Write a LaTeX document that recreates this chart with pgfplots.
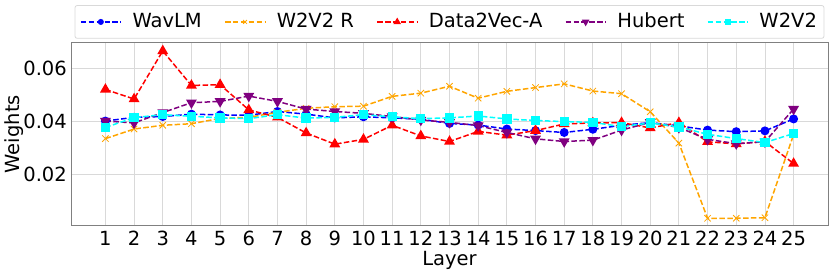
\documentclass[border=0pt]{standalone}
\usepackage{fontspec}
\setmainfont{DejaVu Sans}
\usepackage{pgfplots}
\pgfplotsset{compat=1.18}
\definecolor{cOrange}{RGB}{255,165,0}
\definecolor{cPurple}{RGB}{128,0,128}
\definecolor{cCyan}{RGB}{0,255,255}
\pgfplotstableread{
x wavlm w2v2r d2v hubert w2v2
1 0.0401 0.0335 0.0520 0.0401 0.0377
2 0.0415 0.0371 0.0484 0.0394 0.0414
3 0.0418 0.0385 0.0665 0.0433 0.0425
4 0.0427 0.0391 0.0535 0.0470 0.0419
5 0.0424 0.0411 0.0538 0.0475 0.0413
6 0.0423 0.0415 0.0443 0.0495 0.0410
7 0.0437 0.0434 0.0415 0.0475 0.0425
8 0.0427 0.0449 0.0356 0.0446 0.0412
9 0.0413 0.0455 0.0314 0.0437 0.0415
10 0.0417 0.0457 0.0332 0.0430 0.0425
11 0.0413 0.0494 0.0385 0.0418 0.0417
12 0.0408 0.0506 0.0345 0.0405 0.0410
13 0.0392 0.0532 0.0324 0.0396 0.0413
14 0.0386 0.0487 0.0362 0.0384 0.0420
15 0.0371 0.0513 0.0348 0.0358 0.0409
16 0.0365 0.0527 0.0365 0.0334 0.0403
17 0.0358 0.0541 0.0390 0.0324 0.0399
18 0.0370 0.0514 0.0394 0.0329 0.0396
19 0.0385 0.0504 0.0395 0.0367 0.0380
20 0.0395 0.0436 0.0375 0.0396 0.0394
21 0.0383 0.0318 0.0395 0.0377 0.0379
22 0.0367 0.0035 0.0323 0.0332 0.0351
23 0.0361 0.0035 0.0315 0.0316 0.0335
24 0.0364 0.0037 0.0324 0.0323 0.0320
25 0.0409 0.0350 0.0241 0.0446 0.0354
}\datatable
\begin{document}
\fontsize{19.5}{23}\selectfont
\begin{tikzpicture}
\begin{axis}[
  width=757pt, height=183pt, scale only axis,
  xmin=-0.2, xmax=26.2, ymin=0.0007, ymax=0.0696,
  xtick={1,...,25}, ytick={0.02,0.04,0.06},
  scaled y ticks=false,
  /pgf/number format/assume math mode=true,
  yticklabel style={/pgf/number format/fixed, /pgf/number format/fixed zerofill, /pgf/number format/precision=2, inner sep=0pt, xshift=-4pt},
  ticklabel style={font=\fontsize{19.5}{23}\selectfont},
  label style={font=\fontsize{19.5}{23}\selectfont},
  xticklabel style={inner sep=0pt, yshift=-5pt},
  major tick length=0pt,
  axis line style={black!50, line width=0.8pt},
  grid=major, grid style={black!15, line width=0.8pt},
  xlabel={Layer}, ylabel={Weights},
  xlabel style={inner sep=0pt, yshift=-5pt},
  ylabel style={yshift=-7pt},
  legend columns=5,
  legend cell align=left,
  legend style={at={(0.5,1)}, anchor=south, yshift=4pt,
    draw=black!15, rounded corners=2pt, line width=0.8pt,
    font=\fontsize{19.5}{23}\selectfont, inner xsep=5pt, inner ysep=5.5pt,
    /tikz/every even column/.append style={column sep=20.5pt}},
  legend image code/.code={\draw[mark repeat=2,mark phase=2, every mark/.append style={scale=0.6}] plot coordinates {(0pt,0pt) (20pt,0pt) (40pt,0pt)}; \path (0pt,0pt) (49pt,0pt);},
  every axis plot/.append style={line width=1.5pt, dash pattern=on 5.5pt off 2.4pt},
]
\addplot[blue, mark=*, mark size=3.7pt, mark options={solid}] table[x=x,y=wavlm]{\datatable};
\addlegendentry{WavLM}
\addplot[cOrange, mark=x, mark size=4.5pt, mark options={solid, line width=0.8pt}] table[x=x,y=w2v2r]{\datatable};
\addlegendentry{W2V2 R}
\addplot[red, mark=triangle*, mark size=4.8pt, mark options={solid}] table[x=x,y=d2v]{\datatable};
\addlegendentry{Data2Vec-A}
\addplot[cPurple, mark=triangle*, mark size=4.8pt, mark options={solid, rotate=180}] table[x=x,y=hubert]{\datatable};
\addlegendentry{Hubert}
\addplot[cCyan, mark=square*, mark size=3.9pt, mark options={solid}] table[x=x,y=w2v2]{\datatable};
\addlegendentry{W2V2}
\end{axis}
\pgfresetboundingbox
\path (current axis.south west) +(-71pt,-46pt) (current axis.north east) +(2pt,42.7pt);
\end{tikzpicture}
\end{document}
